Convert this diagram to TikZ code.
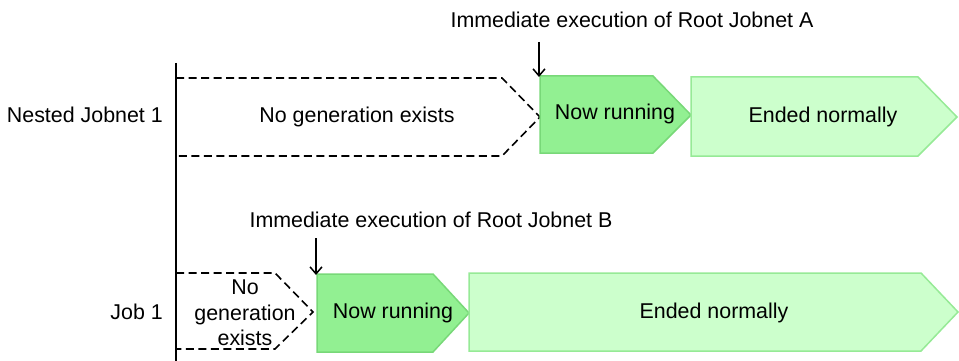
\documentclass[tikz,border=0pt]{standalone}
\usepackage{fontspec}
\setmainfont{Liberation Sans}
\usetikzlibrary{arrows.meta}
\definecolor{runfill}{HTML}{92F092}
\definecolor{rundraw}{HTML}{78D878}
\definecolor{endfill}{HTML}{CCFFCC}
\definecolor{enddraw}{HTML}{96EA96}
\tikzset{
  txt/.style={inner sep=0pt, font=\fontsize{21.4}{25.5}\selectfont, align=center},
  nogen/.style={draw=black, dash pattern=on 8pt off 4.5pt, line width=1.6pt},
  runbox/.style={fill=runfill, draw=rundraw, line width=1.5pt},
  endbox/.style={fill=endfill, draw=enddraw, line width=1.5pt},
  trig/.style={-{Straight Barb[length=7pt,width=12pt]}, line width=1.5pt},
}
\begin{document}
\begin{tikzpicture}[x=1pt,y=-1pt]
\useasboundingbox (0,0) rectangle (959,361);
% top row
\draw[nogen] (176,78) -- (502,78) -- (540,117) -- (502,156) -- (176,156);
\draw[runbox] (540,76) -- (653,76) -- (691,115) -- (653,153) -- (540,153) -- cycle;
\draw[endbox] (691,77) -- (918,77) -- (957,117) -- (918,156) -- (691,156) -- cycle;
% bottom row
\draw[nogen] (176,273) -- (275,273) -- (313,312) -- (275,349) -- (176,349);
\draw[runbox] (317,274) -- (433,274) -- (469,313) -- (433,352) -- (317,352) -- cycle;
\draw[endbox] (469,273) -- (921,273) -- (958,312) -- (921,351) -- (469,351) -- cycle;
% axis
\draw[line width=1.6pt] (176,63) -- (176,361);
% texts
\node[txt] (ng1) at (357,117) {No generation exists};
\node[txt] (nr1) at (615,114) {Now running};
\node[txt] (en1) at (823,117) {Ended normally};
\node[txt] (ng2) at (245,313) {No\\generation\\exists};
\node[txt] (nr2) at (393,313) {Now running};
\node[txt] (en2) at (714,313) {Ended normally};
\node[txt, anchor=east] (lab1) at (163,115) {Nested Jobnet 1};
\node[txt, anchor=east] (lab2) at (163,312) {Job 1};
\node[txt] (ta) at (632,20) {Immediate execution of Root Jobnet A};
\node[txt] (tb) at (431,220) {Immediate execution of Root Jobnet B};
% arrows
\coordinate (a0) at (539,42);
\coordinate (a1) at (539,77);
\coordinate (b0) at (316,238);
\coordinate (b1) at (316,275);
\draw[trig] (a0) -- (a1);
\draw[trig] (b0) -- (b1);
\end{tikzpicture}
\end{document}
